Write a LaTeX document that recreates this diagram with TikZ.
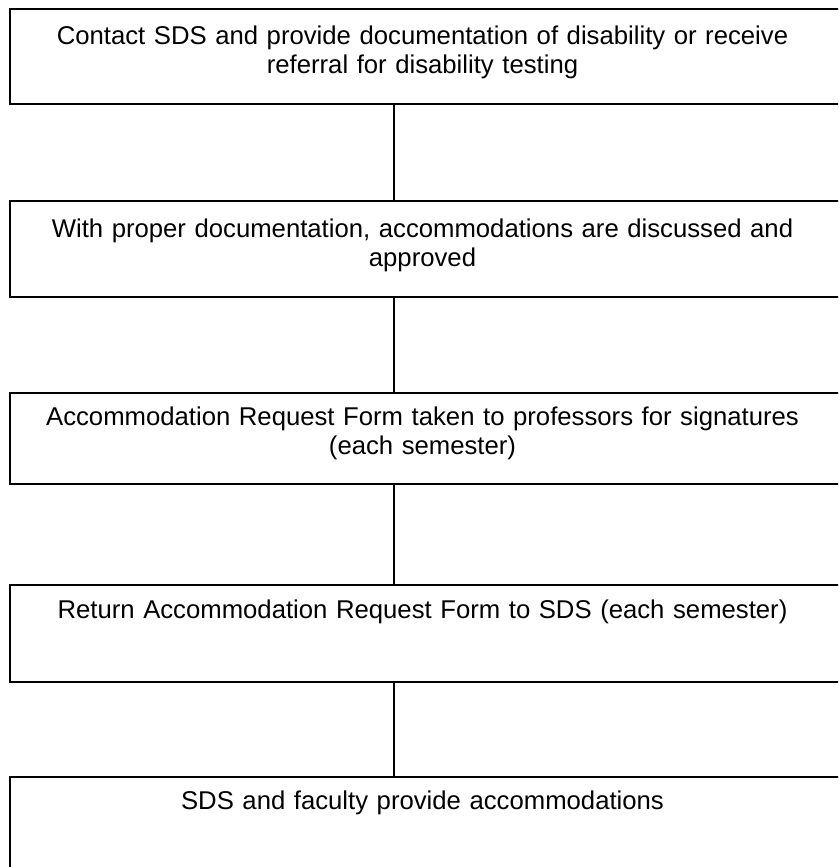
\documentclass[tikz,border=0pt]{standalone}
\usepackage{fontspec}
\setmainfont{Liberation Sans}
\begin{document}
\begin{tikzpicture}[x=1pt,y=-1pt,
  stepbox/.style={draw=black,line width=1.8pt,rectangle,minimum width=840pt,inner sep=0pt},
  steptext/.style={text width=820pt,align=center,anchor=base,inner sep=0pt,
    font=\fontsize{25.7}{29}\selectfont},
  link/.style={draw=black,line width=1.6pt}]
\useasboundingbox (0,0) rectangle (838,867);
\clip (0,0) rectangle (838,867);
\fill[white] (0,0) rectangle (838,867);
\node[stepbox,minimum height=95pt] (b1) at (430,56.5) {};
\node[stepbox,minimum height=96pt] (b2) at (430,249) {};
\node[stepbox,minimum height=91pt] (b3) at (430,438.5) {};
\node[stepbox,minimum height=97pt] (b4) at (430,633.5) {};
\node[stepbox,minimum height=98pt] (b5) at (430,826) {};
\node[steptext] (t1) at (422.5,45) {Contact SDS and provide documentation of disability or receive\\referral for disability testing};
\node[steptext] (t2) at (422.5,237) {With proper documentation, accommodations are discussed and\\approved};
\node[steptext] (t3) at (422.5,425) {Accommodation Request Form taken to professors for signatures\\(each semester)};
\node[steptext] (t4) at (422.5,618) {Return Accommodation Request Form to SDS (each semester)};
\node[steptext] (t5) at (422.5,809) {SDS and faculty provide accommodations};
\draw[link] ([xshift=-36pt]b1.south) -- ([xshift=-36pt]b2.north);
\draw[link] ([xshift=-36pt]b2.south) -- ([xshift=-36pt]b3.north);
\draw[link] ([xshift=-36pt]b3.south) -- ([xshift=-36pt]b4.north);
\draw[link] ([xshift=-36pt]b4.south) -- ([xshift=-36pt]b5.north);
\end{tikzpicture}
\end{document}
